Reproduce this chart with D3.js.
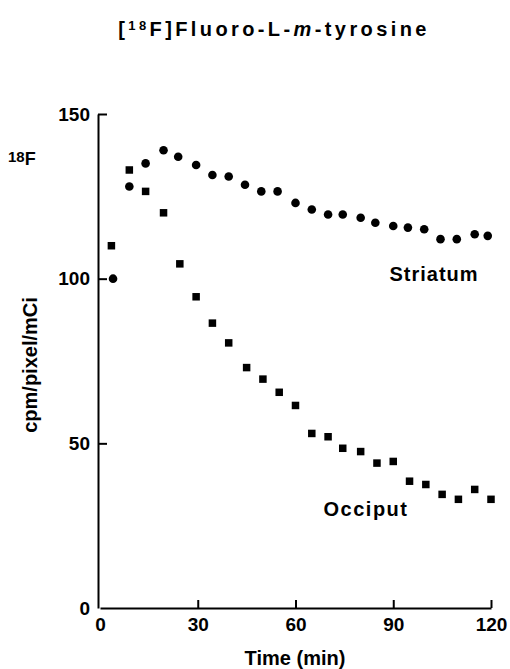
<!DOCTYPE html>
<html lang="en">
  <head>
    <meta charset="UTF-8" />
    <title>Fluoro-L-m-tyrosine</title>
    <style>
      body { margin: 0; background: #fff; }
      text { font-family: "Liberation Sans", Arial, sans-serif; font-weight: bold; fill: #000; }
      .axis path, .axis line { stroke: #000; stroke-width: 2; }
      .axis text { font-size: 19px; font-family: "Liberation Sans", Arial, sans-serif; font-weight: bold; }
    </style>
  </head>
  <body>
    <svg id="svg" width="510" height="669"></svg>

    <script src="https://cdn.jsdelivr.net/npm/d3@7"></script>
    <script>
      // data (time in min, cpm/pixel/mCi)
      const striatumTime = [4, 9, 14, 19.5, 24, 29.5, 34.5, 39.5, 44.5, 49.5, 54.5, 60, 65, 70, 74.5, 80, 84.5, 90, 94.5, 99.5, 104.5, 109.5, 115, 119];
      const striatumValue = [100, 128, 135, 139, 137, 134.5, 131.5, 131, 128.5, 126.5, 126.5, 123, 121, 119.5, 119.5, 118.5, 117, 116, 115.5, 115, 112, 112, 113.5, 113];
      const occiputTime = [3.5, 9, 14, 19.5, 24.5, 29.5, 34.5, 39.5, 45, 50, 55, 60, 65, 70, 74.5, 80, 85, 90, 95, 100, 105, 110, 115, 120];
      const occiputValue = [110, 133, 126.5, 120, 104.5, 94.5, 86.5, 80.5, 73, 69.5, 65.5, 61.5, 53, 52, 48.5, 47.5, 44, 44.5, 38.5, 37.5, 34.5, 33, 36, 33];
      const xTicks = [0, 30, 60, 90, 120];
      const yTicks = [0, 50, 100, 150];

      const MARGIN = { top: 114, left: 100 };
      const WIDTH = 391;
      const HEIGHT = 494;

      const svg = d3.select("#svg");
      const xScale = d3.scaleLinear().domain([0, 120]).range([MARGIN.left, MARGIN.left + WIDTH]);
      const yScale = d3.scaleLinear().domain([0, 150]).range([MARGIN.top + HEIGHT, MARGIN.top]);

      const bottomAxis = d3.axisBottom(xScale).tickValues(xTicks).tickSizeInner(-8).tickSizeOuter(0).tickPadding(10);
      const leftAxis = d3.axisLeft(yScale).tickValues(yTicks).tickSizeInner(-9).tickSizeOuter(0).tickPadding(8);

      svg.append("g")
        .attr("class", "axis")
        .attr("transform", `translate(0, ${MARGIN.top + HEIGHT})`)
        .call(bottomAxis)
        .call((g) => g.selectAll(".tick").filter((d) => d === 0).select("line").remove());
      svg.append("g")
        .attr("class", "axis")
        .attr("transform", `translate(${MARGIN.left - 2}, 0)`)
        .call(leftAxis)
        .call((g) => g.selectAll(".tick").filter((d) => d === 0).select("line").remove());
      svg.selectAll(".axis .domain").attr("fill", "none");
      svg.selectAll(".axis text").attr("fill", "#000");

      const striatum = striatumTime.map((t, i) => ({ t, v: striatumValue[i] }));
      const occiput = occiputTime.map((t, i) => ({ t, v: occiputValue[i] }));

      svg.append("g")
        .selectAll("circle")
        .data(striatum)
        .enter()
        .append("circle")
        .attr("cx", (d) => xScale(d.t))
        .attr("cy", (d) => yScale(d.v))
        .attr("r", 4.3)
        .attr("fill", "#000");

      const SQ = 7.5;
      svg.append("g")
        .selectAll("rect")
        .data(occiput)
        .enter()
        .append("rect")
        .attr("x", (d) => xScale(d.t) - SQ / 2)
        .attr("y", (d) => yScale(d.v) - SQ / 2)
        .attr("width", SQ)
        .attr("height", SQ)
        .attr("fill", "#000");

      // labels
      const title = svg.append("text")
        .attr("x", 274)
        .attr("y", 36)
        .attr("text-anchor", "middle")
        .style("font-size", "20px")
        .style("letter-spacing", "3.4px");
      title.append("tspan").text("[");
      title.append("tspan").attr("dy", -6).style("font-size", "13px").text("18");
      title.append("tspan").attr("dy", 6).text("F]Fluoro-L-");
      title.append("tspan").style("font-style", "italic").text("m");
      title.append("tspan").text("-tyrosine");

      const iso = svg.append("text").attr("x", 8).attr("y", 165).style("font-size", "18px");
      iso.append("tspan").attr("dy", -3).style("font-size", "15px").text("18");
      iso.append("tspan").attr("dy", 3).text("F");

      svg.append("text")
        .attr("transform", "translate(37, 365) rotate(-90)")
        .attr("text-anchor", "middle")
        .style("font-size", "20px")
        .text("cpm/pixel/mCi");

      svg.append("text")
        .attr("x", 295)
        .attr("y", 665)
        .attr("text-anchor", "middle")
        .style("font-size", "20px")
        .text("Time (min)");

      svg.append("text")
        .attr("x", 434)
        .attr("y", 281)
        .attr("text-anchor", "middle")
        .style("font-size", "20px")
        .style("letter-spacing", "1px")
        .text("Striatum");

      svg.append("text")
        .attr("x", 366)
        .attr("y", 516)
        .attr("text-anchor", "middle")
        .style("font-size", "20px")
        .style("letter-spacing", "1.5px")
        .text("Occiput");
    </script>
  </body>
</html>
